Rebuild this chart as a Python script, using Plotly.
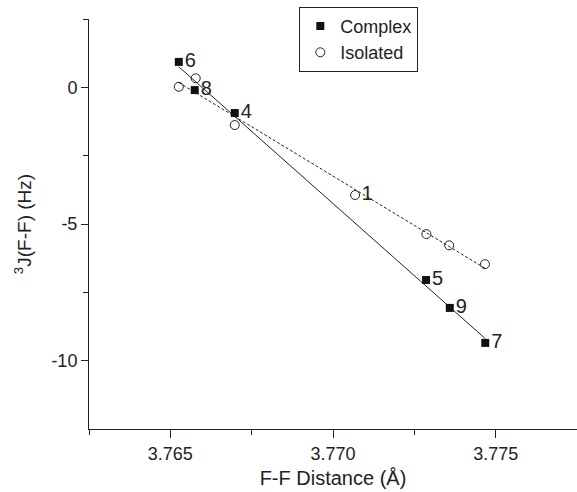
import numpy as np
import plotly.graph_objects as go

# Complex (filled squares)
complex_x = [3.76526, 3.76575, 3.76698, 3.77286, 3.77359, 3.77468]
complex_y = [0.93, -0.10, -0.94, -7.05, -8.07, -9.35]
complex_labels = ["6", "8", "4", "5", "9", "7"]

# Isolated (open circles)
isolated_x = [3.76526, 3.76578, 3.76698, 3.77068, 3.77287, 3.77357, 3.77467]
isolated_y = [0.02, 0.33, -1.38, -3.94, -5.37, -5.78, -6.47]
isolated_labels = ["", "", "", "1", "", "", ""]

x_tickvals = [3.765, 3.770, 3.775]
x_ticktext = ["3.765", "3.770", "3.775"]
x_minor = [3.7625, 3.7675, 3.7725, 3.7775]
y_tickvals = [0, -5, -10]
y_ticktext = ["0", "-5", "-10"]
y_minor = [2.5, -2.5, -7.5]

FONT = "Liberation Sans, Arial, sans-serif"
INK = "#222222"

def fit_line(xs, ys):
    m, b = np.polyfit(xs, ys, 1)
    xx = np.array([min(xs), max(xs)])
    return xx, m * xx + b

fig = go.Figure()

cx, cy = fit_line(complex_x, complex_y)
ix, iy = fit_line(isolated_x, isolated_y)

fig.add_trace(go.Scatter(x=cx, y=cy, mode="lines", showlegend=False,
                         line=dict(color=INK, width=1), hoverinfo="skip"))
fig.add_trace(go.Scatter(x=ix, y=iy, mode="lines", showlegend=False,
                         line=dict(color=INK, width=1, dash="3px,2px"), hoverinfo="skip"))

fig.add_trace(go.Scatter(
    x=complex_x, y=complex_y, mode="markers+text", name="Complex",
    text=complex_labels, textposition="middle right",
    textfont=dict(family=FONT, size=20, color=INK),
    marker=dict(symbol="square", size=8, color="#111111", line=dict(width=0)),
))
fig.add_trace(go.Scatter(
    x=isolated_x, y=isolated_y, mode="markers+text", name="Isolated",
    text=isolated_labels, textposition="middle right",
    textfont=dict(family=FONT, size=20, color=INK),
    marker=dict(symbol="circle-open", size=9, color=INK, line=dict(width=1)),
))

fig.update_layout(
    width=577, height=492,
    margin=dict(l=89, r=0, t=19, b=63),
    paper_bgcolor="white", plot_bgcolor="white",
    font=dict(family=FONT, size=18, color=INK),
    legend=dict(x=0.431, y=1.03, xanchor="left", yanchor="top",
                bordercolor=INK, borderwidth=1, bgcolor="white",
                font=dict(family=FONT, size=18, color=INK),
                itemwidth=30, tracegroupgap=0),
    showlegend=True,
)

fig.update_xaxes(
    range=[3.7625, 3.7775], showgrid=False, zeroline=False, automargin=False,
    showline=True, linecolor=INK, linewidth=1,
    tickvals=x_tickvals, ticktext=x_ticktext,
    ticks="outside", ticklen=8, tickcolor=INK, tickwidth=1,
    minor=dict(tickvals=x_minor, ticks="outside", ticklen=5, tickcolor=INK),
    tickfont=dict(family=FONT, size=18, color=INK),
    title=dict(text="F-F Distance (Å)", font=dict(family=FONT, size=20, color=INK), standoff=8),
)
fig.update_yaxes(
    range=[-12.5, 2.5], showgrid=False, zeroline=False, automargin=False,
    showline=True, linecolor=INK, linewidth=1,
    tickvals=y_tickvals, ticktext=y_ticktext,
    ticks="outside", ticklen=7, tickcolor=INK, tickwidth=1,
    minor=dict(tickvals=y_minor, ticks="outside", ticklen=5, tickcolor=INK),
    tickfont=dict(family=FONT, size=18, color=INK),
    title=dict(text="<sup>3</sup>J(F-F) (Hz)", font=dict(family=FONT, size=19, color=INK), standoff=14),
)

fig.write_html("out.html", config={"displayModeBar": False},
               post_script="document.body.style.margin='0';document.body.style.overflow='hidden';")
